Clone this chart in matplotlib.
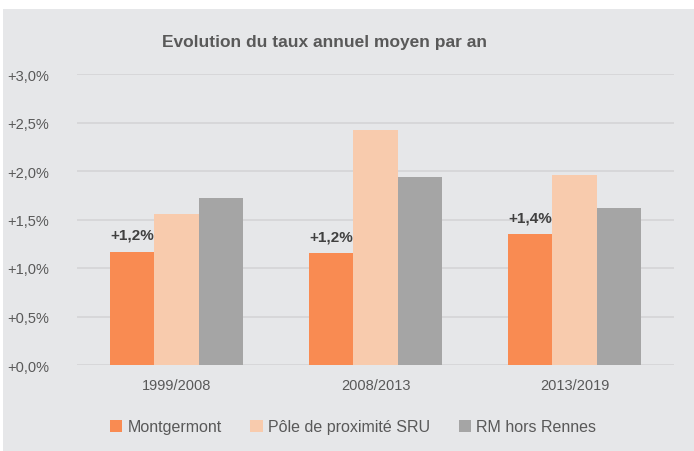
import matplotlib.pyplot as plt
import numpy as np
from matplotlib.patches import Rectangle

periods = ["1999/2008", "2008/2013", "2013/2019"]
montgermont = [1.17, 1.15, 1.35]
pole_sru = [1.56, 2.42, 1.96]
rm_hors_rennes = [1.72, 1.94, 1.62]
labels_mont = ["+1,2%", "+1,2%", "+1,4%"]
series_names = ["Montgermont", "Pôle de proximité SRU", "RM hors Rennes"]
yticks = [0, 0.5, 1.0, 1.5, 2.0, 2.5, 3.0]

colors = ["#F98B52", "#F8CBAD", "#A5A5A5"]
bg = "#E6E7E9"
txt = "#595959"

plt.rcParams["font.family"] = "Liberation Sans"

fig = plt.figure(figsize=(6.94, 4.52), dpi=100)
fig.patch.set_facecolor("white")
# grey panel behind the chart
fig.patches.append(Rectangle((3 / 694, 0), 691 / 694, 442 / 452, transform=fig.transFigure,
                             facecolor=bg, edgecolor="none", zorder=-5))

ax = fig.add_axes([77 / 694, 1 - 366 / 452, 597 / 694, 291 / 452])
ax.set_facecolor(bg)
ax.set_zorder(2)

x = np.arange(len(periods))
w = 0.224
for i, (vals, name) in enumerate(zip([montgermont, pole_sru, rm_hors_rennes], series_names)):
    ax.bar(x + (i - 1) * w, vals, width=w, color=colors[i], label=name, zorder=3)

for xi, v, lab in zip(x, montgermont, labels_mont):
    ax.text(xi - w, v + 0.1, lab, ha="center", va="bottom", fontsize=11,
            fontweight="bold", color="#404040")

ax.set_xlim(-0.5, 2.5)
ax.set_ylim(0, 3.0)
ax.set_yticks(yticks)
ax.set_yticklabels(["+" + f"{t:.1f}".replace(".", ",") + "%" for t in yticks])
ax.set_xticks(x)
ax.set_xticklabels(periods)
ax.yaxis.grid(True, color="#D4D4D6", linewidth=1.2, zorder=0)
ax.set_axisbelow(True)
ax.tick_params(length=0, labelsize=10.5, colors=txt, pad=9)
ax.tick_params(axis="y", pad=20)
for s in ax.spines.values():
    s.set_visible(False)

fig.text(325 / 694, 1 - 42 / 452, "Evolution du taux annuel moyen par an", ha="center",
         va="center", fontsize=12.5, fontweight="bold", color=txt)

fig.legend(loc="center", bbox_to_anchor=(353 / 694, 1 - 428 / 452), ncol=3, frameon=False,
           fontsize=11.5, labelcolor=txt, handlelength=0.8, handleheight=0.8,
           handletextpad=0.3, columnspacing=1.8)

fig.savefig("out.png", dpi=100, facecolor=fig.get_facecolor())
